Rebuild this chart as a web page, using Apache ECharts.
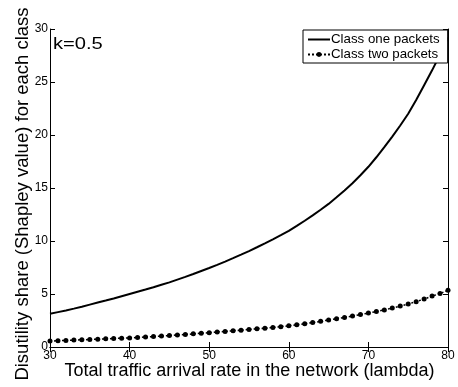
<!DOCTYPE html>
<html><head><meta charset="utf-8">
<script src="https://cdn.jsdelivr.net/npm/echarts@6/dist/echarts.min.js"></script>
<style>html,body{margin:0;padding:0;background:#fff}#c{width:458px;height:387px}</style>
</head><body><div id="c"></div>
<script>
const lambda = [30,31,32,33,34,35,36,37,38,39,40,41,42,43,44,45,46,47,48,49,50,51,52,53,54,55,56,57,58,59,60,61,62,63,64,65,66,67,68,69,70,71,72,73,74,75,76,77,78,79,80];
const classOne = [3.13,3.29,3.45,3.62,3.80,4.00,4.19,4.38,4.58,4.79,5.00,5.21,5.42,5.64,5.87,6.10,6.36,6.62,6.89,7.17,7.45,7.75,8.06,8.38,8.71,9.05,9.41,9.78,10.16,10.55,10.95,11.42,11.91,12.42,12.95,13.50,14.12,14.77,15.45,16.20,17.00,17.90,18.85,19.85,20.90,22.00,23.30,24.70,26.10,27.60,29.20];
const classTwo = [0.56,0.59,0.62,0.65,0.68,0.71,0.74,0.77,0.80,0.83,0.86,0.90,0.94,0.98,1.03,1.08,1.13,1.18,1.24,1.30,1.35,1.41,1.47,1.53,1.59,1.65,1.72,1.78,1.85,1.92,2.00,2.09,2.19,2.30,2.42,2.55,2.67,2.79,2.92,3.06,3.20,3.35,3.50,3.67,3.86,4.05,4.28,4.52,4.80,5.05,5.35];
const seriesNames = ['Class one packets','Class two packets'];
const xTitle = 'Total traffic arrival rate in the network (lambda)';
const yTitle = 'Disutility share (Shapley value) for each class';
const note = 'k=0.5';

const font = 'Liberation Sans, Arial, Helvetica, sans-serif';
const chart = echarts.init(document.getElementById('c'));
const axLine = {show:true, lineStyle:{color:'#000', width:1}};
const tick = {show:true, inside:true, length:5, lineStyle:{color:'#000'}};
const solidIcon = 'path://M0,0 L0.01,0 L0.01,0.01 L0,0.01 Z M0,2 L22,2 L22,4 L0,4 Z M21.99,5.99 L22,5.99 L22,6 L21.99,6 Z';
chart.setOption({
  animation:false,
  backgroundColor:'#fff',
  textStyle:{fontFamily:font},
  grid:{left:50, right:10, top:29, bottom:40, containLabel:false},
  graphic:[
    {type:'text', x:53, y:36, scaleX:1.22, style:{text:note, font:'16.5px '+font, fill:'#000'}},
    {type:'text', x:249.5, y:362, style:{text:xTitle, font:'18px '+font, fill:'#000', align:'center', verticalAlign:'top'}},
    {type:'text', x:32, y:194, rotation:Math.PI/2, style:{text:yTitle, font:'18.5px '+font, fill:'#000', align:'center', verticalAlign:'bottom'}}
  ],
  legend:{
    left:303, top:30, orient:'vertical', itemWidth:22, itemHeight:6, itemGap:2,
    backgroundColor:'#fff', borderColor:'#000', borderWidth:1, borderRadius:0,
    padding:[3,8,2,4],
    textStyle:{fontFamily:font, fontSize:13.3, color:'#000', padding:[0,0,0,-4]},
    data:[{name:seriesNames[0], icon:solidIcon}, {name:seriesNames[1]}]
  },
  xAxis:[
    {type:'value', min:30, max:80, interval:10, position:'bottom', axisLine:axLine, axisTick:tick, splitLine:{show:false},
     axisLabel:{color:'#000', fontSize:12, fontFamily:font, margin:3}},
    {type:'value', min:30, max:80, interval:10, position:'top', axisLine:axLine, axisTick:tick, splitLine:{show:false}, axisLabel:{show:false}}
  ],
  yAxis:[
    {type:'value', min:0, max:30, interval:5, position:'left', axisLine:axLine, axisTick:tick, splitLine:{show:false},
     axisLabel:{color:'#000', fontSize:12, fontFamily:font, margin:2}},
    {type:'value', min:0, max:30, interval:5, position:'right', axisLine:axLine, axisTick:tick, splitLine:{show:false}, axisLabel:{show:false}}
  ],
  series:[
    {name:seriesNames[0], type:'line', data:lambda.map((x,i)=>[x,classOne[i]]), showSymbol:false, symbol:'none',
     lineStyle:{color:'#000', width:2}, itemStyle:{color:'#000'}, clip:true, z:3},
    {name:seriesNames[1], type:'line', data:lambda.map((x,i)=>[x,classTwo[i]]), symbol:'circle', symbolSize:5, showSymbol:true,
     lineStyle:{color:'#000', width:1.5, type:[2,2]}, itemStyle:{color:'#000'}, clip:false, z:3}
  ]
});
</script></body></html>
